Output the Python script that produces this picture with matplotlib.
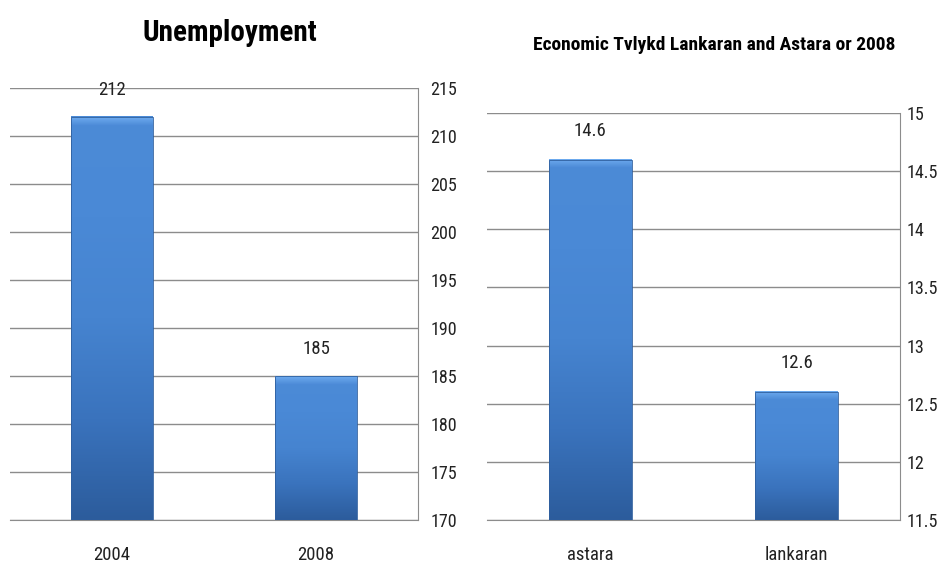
import numpy as np
import matplotlib.pyplot as plt
from matplotlib.colors import LinearSegmentedColormap

plt.rcParams['font.family'] = ['Roboto Condensed', 'Roboto', 'DejaVu Sans']

years = ['2004', '2008']
unemployment = [212, 185]

regions = ['astara', 'lankaran']
economic = [14.6, 12.6]

bar_cmap = LinearSegmentedColormap.from_list(
    'bar', ['#2c5c9c', '#3a73bd', '#4684d0', '#4a89d6', '#4c8bd7'])
bevel_cmap = LinearSegmentedColormap.from_list(
    'bevel', ['#4a89d6', '#6fabef'])


def shade_bars(ax, bars):
    # vertical gradient inside each bar plus a light bevel on top
    grad = np.linspace(0, 1, 256).reshape(-1, 1)
    ymin, ymax = ax.get_ylim()
    t = (ymax - ymin) * 0.02
    for b in bars:
        x0, y0 = b.get_x(), b.get_y()
        w, h = b.get_width(), b.get_height()
        ax.imshow(grad, cmap=bar_cmap, origin='lower', aspect='auto',
                  extent=(x0, x0 + w, y0, y0 + h), zorder=3)
        ax.imshow(grad, cmap=bevel_cmap, origin='lower', aspect='auto',
                  extent=(x0, x0 + w, y0 + h - t, y0 + h), zorder=3.5)
        b.set_facecolor('none')
        b.set_edgecolor('#2f5f9e')
        b.set_linewidth(0.6)
        b.set_zorder(4)


def setup(ax, cats, vals, lo, hi, step, fmt, off, ypad):
    ax.set_xlim(-0.5, len(cats) - 0.5)
    ax.set_ylim(lo, hi)
    bars = ax.bar(range(len(cats)), [v - lo for v in vals], bottom=lo,
                  width=0.4, zorder=3)
    ax.set_ylim(lo, hi)
    shade_bars(ax, bars)
    ax.yaxis.tick_right()
    ticks = np.arange(lo, hi + step / 2, step)
    ax.set_yticks(ticks)
    ax.set_yticklabels([fmt(t) for t in ticks])
    ax.tick_params(axis='y', length=0, pad=ypad, labelsize=13,
                   labelcolor='#222222')
    ax.set_xticks(range(len(cats)))
    ax.set_xticklabels(cats)
    ax.tick_params(axis='x', length=0, pad=19, labelsize=13.5,
                   labelcolor='#222222')
    ax.grid(axis='y', color='#8c8c8c', linewidth=1, zorder=0)
    for s in ['top', 'left']:
        ax.spines[s].set_visible(False)
    for s in ['right', 'bottom']:
        ax.spines[s].set_color('#8c8c8c')
    for i, v in enumerate(vals):
        ax.text(i, v + off, fmt(v), ha='center', va='bottom', fontsize=13.5,
                color='#222222')


fig = plt.figure(figsize=(9.43, 5.72), dpi=100)
ax1 = fig.add_axes([0.0106, 0.0909, 0.4327, 0.755])
ax2 = fig.add_axes([0.5164, 0.0909, 0.438, 0.7115])

setup(ax1, years, unemployment, 170, 215, 5, lambda t: '%d' % t, 1.9, 9)
setup(ax2, regions, economic, 11.5, 15, 0.5,
      lambda t: ('%g' % round(t, 1)), 0.17, 5)

fig.text(0.244, 0.942, 'Unemployment', ha='center', va='center',
         fontsize=21, fontweight='bold')
fig.text(0.757, 0.921, 'Economic Tvlykd Lankaran and Astara or 2008',
         ha='center', va='center', fontsize=14, fontweight='bold')

fig.savefig('out.png', dpi=100)
